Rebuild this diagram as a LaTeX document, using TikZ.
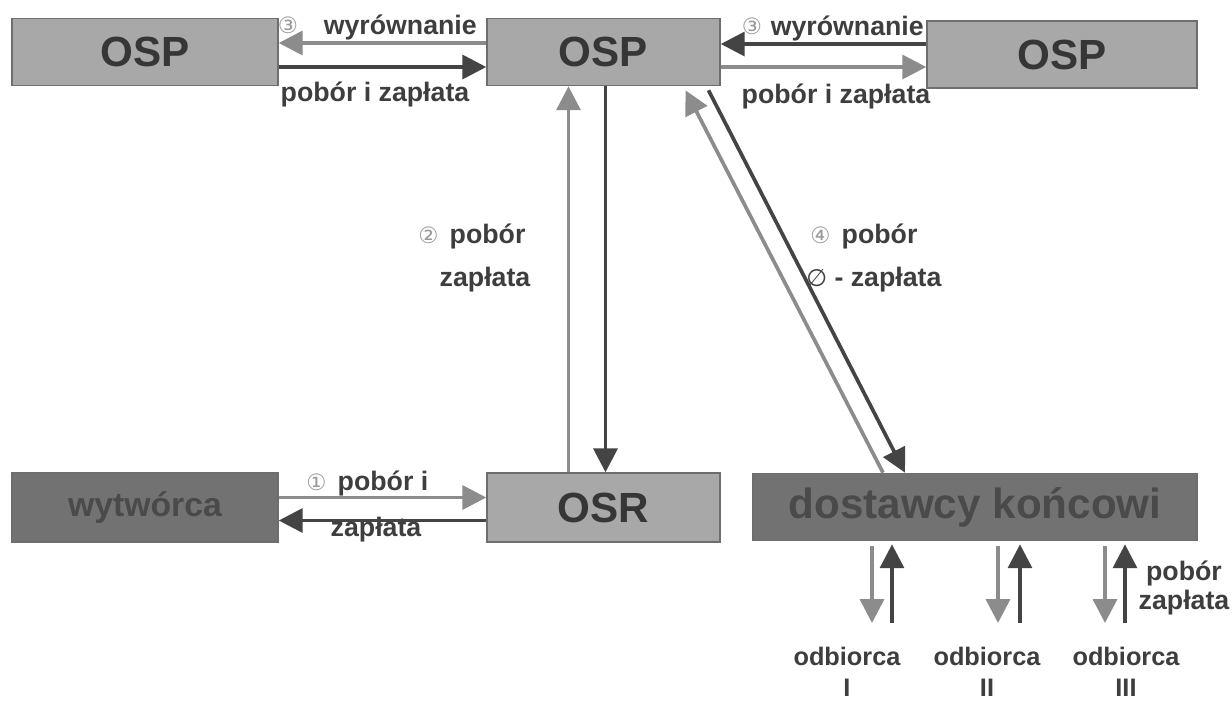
\documentclass[tikz,border=0pt]{standalone}
\usepackage{fontspec}
\setmainfont{Liberation Sans}
\newfontfamily\symfont{DejaVu Sans}
\usetikzlibrary{arrows.meta,calc}
\definecolor{boxfill}{HTML}{A8A8A8}
\definecolor{boxline}{HTML}{6E6E6E}
\definecolor{darkfill}{HTML}{727272}
\definecolor{boxtext}{HTML}{363636}
\definecolor{darktext}{HTML}{4A4A4A}
\definecolor{lightarr}{HTML}{8C8C8C}
\definecolor{darkarr}{HTML}{444444}
\definecolor{lbltext}{HTML}{3E3E3E}
\definecolor{digit}{HTML}{9A9A9A}
\newcommand\cnum[1]{{\symfont\mdseries\color{digit}\fontsize{16}{16}\selectfont #1}}
\newcommand\emptysetsym{{\symfont\mdseries\fontsize{17}{17}\selectfont ∅}}
\tikzset{
  box/.style={draw=boxline, line width=1pt, fill=boxfill, inner sep=0pt, text=boxtext,
    font=\bfseries\fontsize{30}{32}\selectfont, minimum height=1.68cm},
  darkbox/.style={box, fill=darkfill, text=darktext},
  lbl/.style={inner sep=0pt, text=lbltext, font=\bfseries\fontsize{19}{21}\selectfont},
  dig/.style={inner sep=0pt},
  rcv/.style={inner sep=0pt, text=lbltext, font=\bfseries\fontsize{18}{20}\selectfont},
  arrL/.style={draw=lightarr, line width=2.6pt, -{Triangle[length=17pt,width=17pt]}},
  arrD/.style={draw=darkarr, line width=2.6pt, -{Triangle[length=17pt,width=17pt]}},
}
\begin{document}
\begin{tikzpicture}[x=0.025cm,y=-0.025cm]
\useasboundingbox[fill=white] (0,0) rectangle (1232,700);

% boxes
\node[box, minimum width=6.65cm] (ospL) at (145,52) {OSP};
\node[box, minimum width=5.825cm] (ospC) at (603.5,52) {OSP};
\node[box, minimum width=6.75cm] (ospR) at (1062,54.5) {OSP};
\node[darkbox, minimum width=6.65cm, minimum height=1.725cm, font=\bfseries\fontsize{24}{28}\selectfont] (wyt) at (145,507.5) {wytwórca};
\node[box, minimum width=5.825cm, minimum height=1.725cm] (osr) at (603.5,507.5) {OSR};
\node[darkbox, minimum width=11.1cm] (dost) at (975,507) {dostawcy końcowi};

% labels
\node[dig] (d1) at (288,25) {\cnum{③}};
\node[lbl, anchor=east] (l1) at (477,27) {wyrównanie};
\node[lbl] (l2) at (375,94) {pobór i zapłata};
\node[dig] (d3) at (752,26) {\cnum{③}};
\node[lbl, anchor=east] (l3) at (924,28) {wyrównanie};
\node[lbl] (l4) at (836,96) {pobór i zapłata};
\node[lbl, anchor=west] (l5) at (418,236) {\cnum{②}\hspace{8pt}pobór};
\node[lbl] (l6) at (485,280) {zapłata};
\node[lbl, anchor=west] (l7) at (810,236) {\cnum{④}\hspace{8pt}pobór};
\node[lbl, anchor=west] (l8) at (806,280) {\emptysetsym\ - zapłata};
\node[lbl, anchor=west] (l9) at (306,483) {\cnum{①}\hspace{8pt}pobór i};
\node[lbl] (l10) at (376,530) {zapłata};
\node[lbl] (l11) at (1184,573) {pobór};
\node[lbl] (l12) at (1184,603) {zapłata};

\node[rcv] (o1) at (847,656) {odbiorca};
\node[rcv] (o2) at (987,656) {odbiorca};
\node[rcv] (o3) at (1126,656) {odbiorca};
\node[rcv] (n1) at (847,688) {I};
\node[rcv] (n2) at (987,688) {II};
\node[rcv] (n3) at (1126,688) {III};

% top arrows
\draw[arrL] ($(ospC.west)+(0,-9)$) -- ($(ospL.east)+(0,-9)$);
\draw[arrD] ($(ospL.east)+(0,15)$) -- ($(ospC.west)+(0,15)$);
\draw[arrD] ($(ospR.west)+(0,-10.5)$) -- ($(ospC.east)+(0,-8)$);
\draw[arrL] ($(ospC.east)+(0,15)$) -- ($(ospR.west)+(0,12.5)$);

% vertical arrows
\draw[arrL] ($(osr.north)+(-35,0)$) -- ($(ospC.south)+(-35,0)$);
\draw[arrD] ($(ospC.south)+(2,0)$) -- ($(osr.north)+(2,0)$);

% diagonal arrows
\draw[arrD] ($(ospC.south)+(105,4)$) -- ($(dost.north)+(-70,0)$);
\draw[arrL] ($(dost.north)+(-92,0)$) -- ($(ospC.south)+(82,4)$);

% bottom-left arrows
\draw[arrL] ($(wyt.east)+(0,-10)$) -- ($(osr.west)+(0,-10)$);
\draw[arrD] ($(osr.west)+(0,13)$) -- ($(wyt.east)+(0,13)$);

% receiver arrows
\coordinate (e1) at (872,623);
\coordinate (f1) at (892,623);
\coordinate (e2) at (998,623);
\coordinate (f2) at (1020,623);
\coordinate (e3) at (1105,623);
\coordinate (f3) at (1125,623);
\draw[arrL] ($(dost.south)+(-103,5)$) -- (e1);
\draw[arrD] (f1) -- ($(dost.south)+(-83,3)$);
\draw[arrL] ($(dost.south)+(23,5)$) -- (e2);
\draw[arrD] (f2) -- ($(dost.south)+(45,3)$);
\draw[arrL] ($(dost.south)+(130,5)$) -- (e3);
\draw[arrD] (f3) -- ($(dost.south)+(150,3)$);
\end{tikzpicture}
\end{document}
